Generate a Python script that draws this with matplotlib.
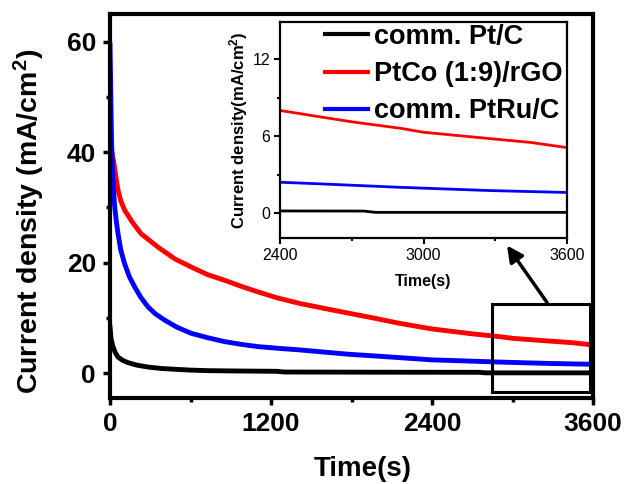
import matplotlib
matplotlib.use("Agg")
import matplotlib.pyplot as plt
from matplotlib.patches import Rectangle
from matplotlib.ticker import MultipleLocator

plt.rcParams['font.family'] = ['Liberation Sans', 'DejaVu Sans']
plt.rcParams['mathtext.fontset'] = 'custom'
plt.rcParams['mathtext.rm'] = 'Liberation Sans:bold'
plt.rcParams['mathtext.it'] = 'Liberation Sans:bold'
plt.rcParams['mathtext.bf'] = 'Liberation Sans:bold'

# ---- data ----
labels = ["comm. Pt/C", "PtCo (1:9)/rGO", "comm. PtRu/C"]
colors = ["black", "red", "blue"]

t_ptc = [0, 8, 22, 40, 60, 95, 134, 200, 283, 380, 482, 600, 730, 900, 1100, 1245, 1300,
         2000, 2750, 2800, 3600]
j_ptc = [8.4, 6.2, 4.8, 3.7, 2.9, 2.3, 1.9, 1.45, 1.1, 0.85, 0.7, 0.55, 0.45, 0.4, 0.36, 0.33, 0.2,
         0.17, 0.15, 0.05, 0.05]

t_ptco = [0, 15, 30, 45, 60, 80, 109, 170, 233, 358, 482, 606, 730, 855, 979, 1103, 1250, 1416,
          1600, 1789, 1980, 2161, 2400, 2534, 2705, 2907, 3000, 3279, 3450, 3600]
j_ptco = [41.5, 40.0, 37.8, 35.3, 33.1, 31.2, 29.5, 27.2, 25.2, 22.8, 20.7, 19.2, 17.8, 16.8, 15.7, 14.7, 13.6, 12.6,
          11.7, 10.8, 9.9, 9.0, 8.0, 7.6, 7.1, 6.6, 6.3, 5.8, 5.5, 5.1]

t_ptru = [0, 5, 10, 15, 25, 35, 47, 60, 80, 109, 145, 184, 230, 283, 340, 407, 500, 606,
          730, 855, 979, 1103, 1250, 1416, 1600, 1789, 1980, 2161, 2400, 2534, 2907, 3279, 3600]
j_ptru = [59.5, 52.0, 44.0, 38.5, 33.5, 30.1, 27.5, 25.2, 22.3, 19.8, 17.4, 15.6, 13.7, 12.0, 10.7, 9.6, 8.3, 7.2,
          6.4, 5.7, 5.2, 4.8, 4.5, 4.2, 3.8, 3.4, 3.1, 2.8, 2.4, 2.3, 2.0, 1.75, 1.6]

series_t = [t_ptc, t_ptco, t_ptru]
series_j = [j_ptc, j_ptco, j_ptru]

main_xticks = [0, 1200, 2400, 3600]
main_yticks = [0, 20, 40, 60]
inset_xticks = [2400, 3000, 3600]
inset_yticks = [0, 6, 12]

fig = plt.figure(figsize=(6.28, 4.84), dpi=100)
W, H = 628, 484

def fr(x0, y0, x1, y1):
    return [x0 / W, 1 - y1 / H, (x1 - x0) / W, (y1 - y0) / H]

ax = fig.add_axes(fr(110, 14, 593, 398))
for t, j, c in zip(series_t, series_j, colors):
    ax.plot(t, j, color=c, lw=3.5, solid_joinstyle='round')
ax.set_xlim(0, 3600)
ax.set_ylim(-4.5, 65)
ax.set_xticks(main_xticks)
ax.set_yticks(main_yticks)
ax.xaxis.set_minor_locator(MultipleLocator(600))
ax.yaxis.set_minor_locator(MultipleLocator(10))
for s in ax.spines.values():
    s.set_linewidth(3)
ax.tick_params(which='major', direction='out', length=5, width=2.5, labelsize=19, pad=5)
ax.tick_params(which='minor', direction='out', length=3, width=2.5)
for lab in ax.get_xticklabels() + ax.get_yticklabels():
    lab.set_fontweight('bold')
ax.set_xlabel("Time(s)", fontsize=20, fontweight='bold')
ax.set_ylabel("Current density (mA/cm$^2$)", fontsize=20.5, fontweight='bold')
ax.xaxis.set_label_coords((363 - 110) / 483, (398 - 456) / 384)
ax.yaxis.set_label_coords((47 - 110) / 483, (398 - 221) / 384)

# zoom box and arrow
ax.add_patch(Rectangle((2847, -3.4), 3578 - 2847, 12.5 + 3.4, fill=False, ec='black', lw=2.2, zorder=5))
ax.annotate("", xy=(2959, 23.1), xytext=(3257, 12.8),
            arrowprops=dict(arrowstyle='-|>', color='black', lw=2.5, mutation_scale=24,
                            shrinkA=0, shrinkB=0), zorder=6)

# inset
ai = fig.add_axes(fr(280, 22, 567, 238))
lines = []
for t, j, c, lab in zip(series_t, series_j, colors, labels):
    ln, = ai.plot(t, j, color=c, lw=2, label=lab)
    lines.append(ln)
ai.set_xlim(2400, 3600)
ai.set_ylim(-1.95, 14.9)
ai.set_xticks(inset_xticks)
ai.set_yticks(inset_yticks)
ai.xaxis.set_minor_locator(MultipleLocator(300))
ai.yaxis.set_minor_locator(MultipleLocator(3))
for s in ai.spines.values():
    s.set_linewidth(1.6)
ai.tick_params(which='major', direction='out', length=4, width=1.5, labelsize=11.5, pad=3)
ai.tick_params(which='minor', direction='out', length=2.5, width=1.5)
ai.set_xlabel("Time(s)", fontsize=11.5, fontweight='bold', labelpad=8)
ai.set_ylabel("Current density(mA/cm$^2$)", fontsize=12, fontweight='bold', labelpad=2)

leg = fig.legend(handles=lines, loc='center left', bbox_to_anchor=(325 / W, 1 - 74 / H),
                 frameon=False, prop=dict(size=19.5, weight='bold'), handlelength=1.6,
                 handletextpad=0.22, labelspacing=0.42, borderpad=0, borderaxespad=0)
for lh in leg.get_lines():
    lh.set_linewidth(3)

fig.savefig("out.png", dpi=100)
